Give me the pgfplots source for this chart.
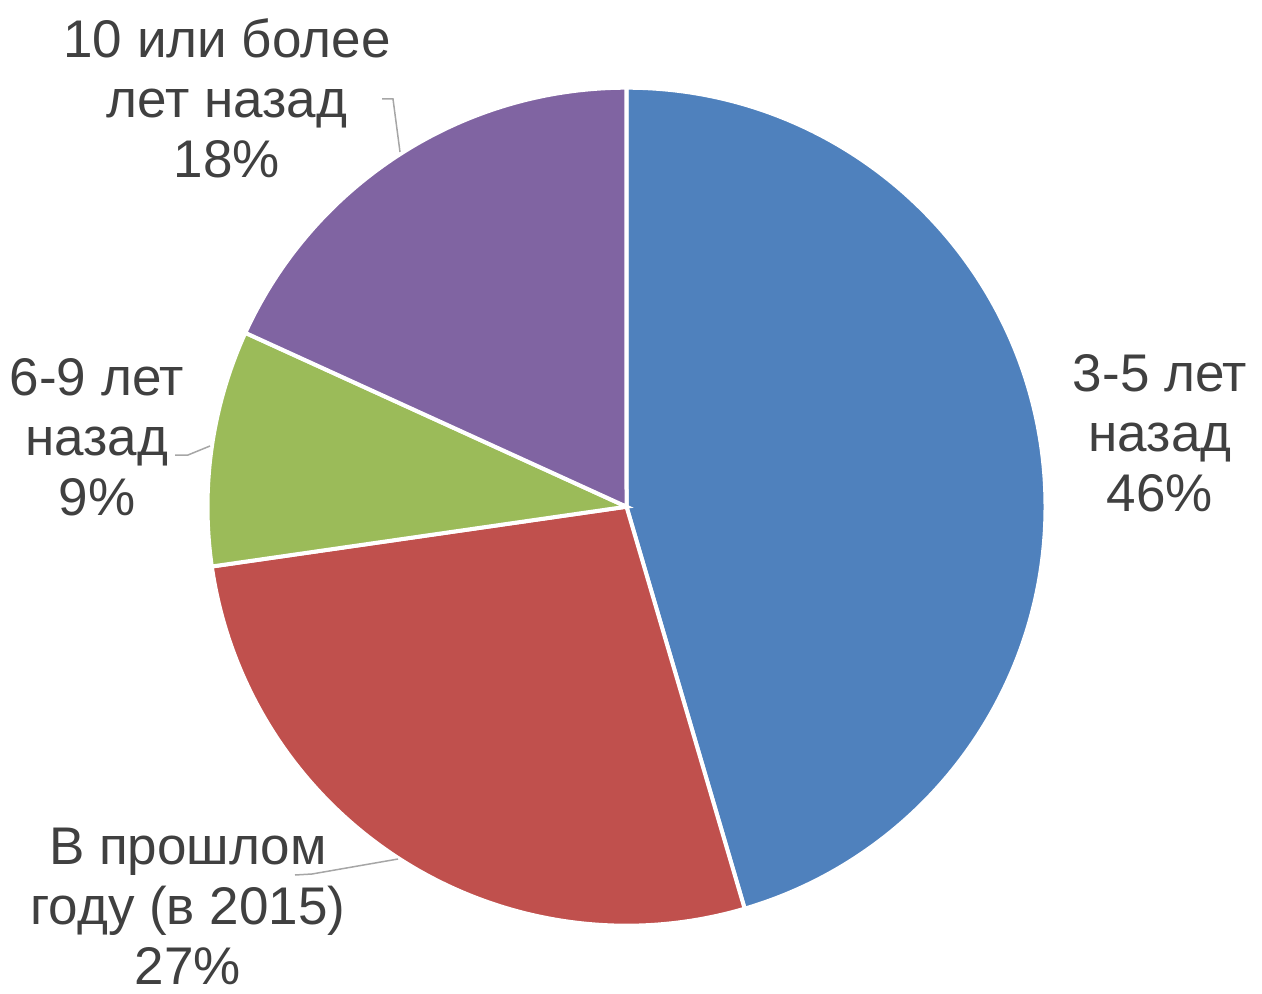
\documentclass[border=0pt]{standalone}
\usepackage{fontspec}
\setmainfont{Liberation Sans}
\usepackage{pgfplots}
\usepackage{pgfplotstable}
\pgfplotsset{compat=1.18}

\definecolor{pieblue}{HTML}{4F81BD}
\definecolor{piered}{HTML}{C0504D}
\definecolor{piegreen}{HTML}{9BBB59}
\definecolor{piepurple}{HTML}{8064A2}
\definecolor{lbl}{HTML}{404040}
\definecolor{leader}{HTML}{A6A6A6}

% shares in percent (clockwise from 12 o'clock)
\pgfplotstableread{
share
45.45
27.27
9.09
18.18
}\piedata

\begin{document}
\begin{tikzpicture}
\pgfplotstablegetelem{0}{share}\of\piedata \let\sA\pgfplotsretval
\pgfplotstablegetelem{1}{share}\of\piedata \let\sB\pgfplotsretval
\pgfplotstablegetelem{2}{share}\of\piedata \let\sC\pgfplotsretval
\pgfplotstablegetelem{3}{share}\of\piedata \let\sD\pgfplotsretval
\pgfmathsetmacro\aA{90}
\pgfmathsetmacro\aB{\aA-3.6*\sA}
\pgfmathsetmacro\aC{\aB-3.6*\sB}
\pgfmathsetmacro\aD{\aC-3.6*\sC}
\pgfmathsetmacro\aE{\aD-3.6*\sD}
\def\R{209.5pt}
\def\ctr{(axis cs:626.5,506.7)}
\begin{axis}[
  width=631pt, height=497pt, scale only axis,
  xmin=0, xmax=1262, ymin=0, ymax=994, y dir=reverse,
  hide axis, clip=false,
]
\addplot[draw=none, forget plot] coordinates {(0,0)};
\filldraw[pieblue, draw=white, line width=2pt] \ctr -- ++(\aA:\R) arc[start angle=\aA, end angle=\aB, radius=\R] -- cycle;
\filldraw[piered, draw=white, line width=2pt] \ctr -- ++(\aB:\R) arc[start angle=\aB, end angle=\aC, radius=\R] -- cycle;
\filldraw[piegreen, draw=white, line width=2pt] \ctr -- ++(\aC:\R) arc[start angle=\aC, end angle=\aD, radius=\R] -- cycle;
\filldraw[piepurple, draw=white, line width=2pt] \ctr -- ++(\aD:\R) arc[start angle=\aD, end angle=\aE, radius=\R] -- cycle;

% leader lines
\draw[leader, line width=0.75pt] (axis cs:382,99) -- (axis cs:393,99) -- (axis cs:400,152);
\draw[leader, line width=0.75pt] (axis cs:175,455) -- (axis cs:188,455) -- (axis cs:210,446);
\draw[leader, line width=0.75pt] (axis cs:295,875) -- (axis cs:312,874) -- (axis cs:398,859);

\tikzset{lab/.style={text=lbl, align=center, font=\fontsize{26.5}{30}\selectfont, inner sep=0pt}}
\node[lab] at (axis cs:1160,433) {3-5 лет\\назад\\46\%};
\node[lab] at (axis cs:227,98) {10 или более\\лет назад\\18\%};
\node[lab] at (axis cs:97,437) {6-9 лет\\назад\\9\%};
\node[lab] at (axis cs:188,906) {В прошлом\\году (в 2015)\\27\%};
\coordinate (BL) at (axis cs:0,994);
\coordinate (TR) at (axis cs:1262,0);
\end{axis}
\pgfresetboundingbox
\path (BL) rectangle (TR);
\end{tikzpicture}
\end{document}
